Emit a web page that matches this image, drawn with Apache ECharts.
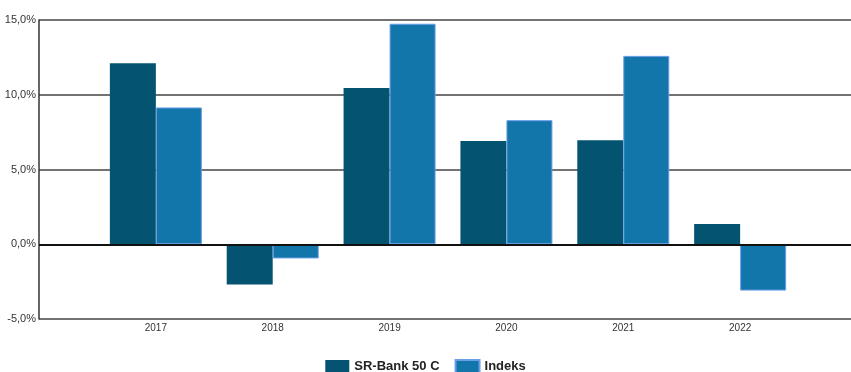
<!DOCTYPE html>
<html>
<head>
<meta charset="utf-8">
<script src="https://cdn.jsdelivr.net/npm/echarts@6/dist/echarts.min.js"></script>
<style>
  html, body { margin: 0; padding: 0; background: #fff; }
  #chart { width: 851px; height: 372px; }
</style>
</head>
<body>
<div id="chart"></div>
<script>
// padding slots at both ends keep the half-band offset of the original
const years = ['', '2017', '2018', '2019', '2020', '2021', '2022', '']
const fundValues = [null, 12.1, -2.7, 10.45, 6.9, 6.95, 1.35, null]
const indexValues = [null, 9.15, -0.95, 14.75, 8.3, 12.6, -3.1, null]
const seriesNames = ['SR-Bank 50 C', 'Indeks']

const chart = echarts.init(document.getElementById('chart'))

chart.setOption({
  animation: false,
  textStyle: { fontFamily: 'Liberation Sans, Arial, sans-serif' },
  grid: { left: 39, right: -6, top: 20, bottom: 53, outerBoundsMode: 'none' },
  legend: {
    data: seriesNames,
    top: 359,
    left: 'center',
    padding: 0,
    itemWidth: 24,
    itemHeight: 13,
    itemGap: 15,
    icon: 'rect',
    textStyle: { fontSize: 13, fontWeight: 'bold', color: '#222' }
  },
  xAxis: {
    type: 'category',
    data: years,
    boundaryGap: false,
    axisLine: { show: false },
    axisTick: { show: false },
    axisLabel: { color: '#333', fontSize: 10, margin: 4, interval: 0 },
    splitLine: { show: false }
  },
  yAxis: {
    type: 'value',
    min: -5,
    max: 15,
    interval: 5,
    axisLine: { show: true, lineStyle: { color: '#333', width: 1.5 } },
    axisTick: { show: false },
    axisLabel: {
      color: '#333',
      fontSize: 11,
      margin: 3,
      formatter: v => v.toFixed(1).replace('.', ',') + '%'
    },
    splitLine: { show: true, lineStyle: { color: '#444', width: 1.5 } }
  },
  series: [
    {
      name: seriesNames[0],
      type: 'bar',
      data: fundValues,
      barWidth: 46,
      barGap: 0,
      itemStyle: { color: '#045471' },
      markLine: {
        silent: true,
        symbol: 'none',
        label: { show: false },
        lineStyle: { color: '#111', width: 2, type: 'solid' },
        data: [{ yAxis: 0 }]
      }
    },
    {
      name: seriesNames[1],
      type: 'bar',
      data: indexValues,
      barWidth: 46,
      barGap: 0,
      itemStyle: { color: '#1276AB', borderColor: '#6A9EE6', borderWidth: 1 }
    }
  ]
})
</script>
</body>
</html>
